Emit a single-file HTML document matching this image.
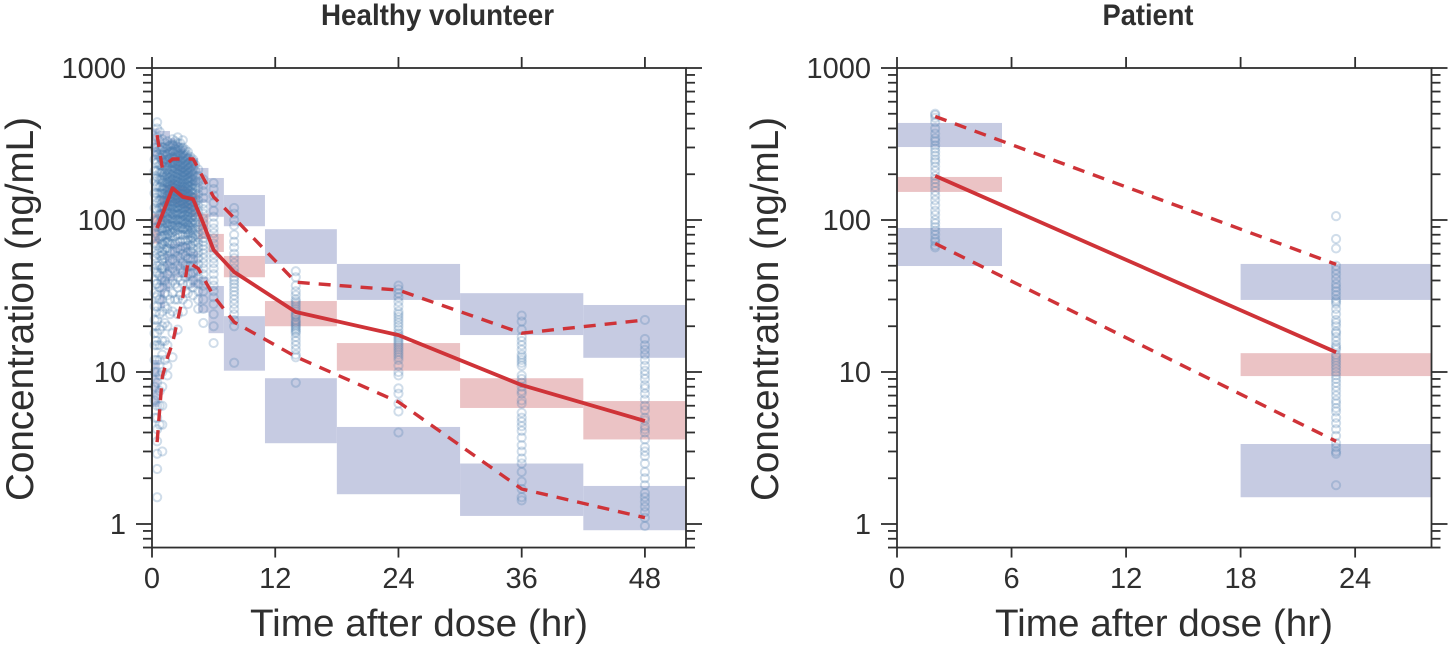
<!DOCTYPE html>
<html lang="en">
<head>
<meta charset="utf-8">
<title>Concentration versus time</title>
<style>
  html, body { margin: 0; padding: 0; background: #fff; }
  svg { display: block; font-family: "Liberation Sans", Arial, sans-serif; }
</style>
</head>
<body>
<svg id="chart" width="1450" height="647" viewBox="0 0 1450 647" xmlns="http://www.w3.org/2000/svg"></svg>
<script>
// ---------- Healthy volunteer data ----------
const hvXTicks = [0, 12, 24, 36, 48];
const ptXTicks = [0, 6, 12, 18, 24];
const yTickLabels = [1, 10, 100, 1000];

const hvBinEdges = [0, 0.75, 1.25, 1.75, 2.25, 2.75, 3.25, 3.75, 4.5, 5.5, 7, 11, 18, 30, 42, 52];
const hvUpperHi = [400, 385, 385, 345, 325, 300, 272, 255, 220, 189, 146, 87, 51.4, 33, 27.6];
const hvUpperLo = [250, 240, 230, 220, 210, 200, 190, 170, 130, 105, 91, 51.4, 29.8, 17.5, 12.4];
const hvMedianHi = [110, 140, 170, 180, 170, 165, 160, 150, 110, 81, 58, 29.3, 15.5, 9.1, 6.44];
const hvMedianLo = [70, 95, 120, 130, 125, 120, 115, 105, 75, 61.6, 42, 20, 10.2, 5.8, 3.6];
const hvLowerHi = [12, 45, 60, 70, 72, 72, 70, 62, 42, 36.8, 23.3, 9.1, 4.35, 2.5, 1.78];
const hvLowerLo = [5.9, 26.4, 34, 40, 42, 42, 40, 36, 24.6, 18, 10.2, 3.4, 1.57, 1.13, 0.91];

const hvObsTimes = [0.25, 0.5, 0.75, 1, 1.25, 1.5, 1.75, 2, 2.25, 2.5, 2.75, 3, 3.25, 3.5, 3.75, 4, 4.5, 5, 6, 8, 14, 24, 36, 48,
  0.4, 0.9, 1.1, 1.4, 1.6, 1.9, 2.1, 2.4, 2.6, 2.9, 3.1, 3.4, 3.6, 3.9, 4.2];
const hvObsValues = [
  [300,250,210,180,150,120,100,85,70,58,48,40,33,27,22,18,15,12,10,8,6.5,5],
  [440,400,350,300,270,240,210,190,170,150,130,115,100,90,80,70,60,50,45,38,32,27,22,18,15,12,10,8.5,7,6,5,4.2,3.5,2.9,2.3,1.5],
  [380,330,290,260,230,205,185,165,150,135,120,108,96,85,75,66,58,50,43,36,30,24,19,15,12,9.5,7.5,6,4.5],
  [340,300,270,245,225,205,190,175,160,150,140,130,120,110,100,92,85,78,70,62,55,48,42,36,30,25,20,16,13,10,8,6,4.5,3],
  [320,280,250,225,205,190,175,160,150,140,130,120,112,104,96,88,80,72,64,56,48,40,33,27,21,16,12],
  [330,300,270,250,230,215,200,185,175,165,155,145,135,125,118,110,102,95,88,80,72,65,58,50,44,38,32,26,20,15,11,9.5],
  [310,280,255,235,215,200,190,180,170,160,150,142,134,126,118,110,102,94,86,78,70,62,54,46,38,30,24],
  [340,310,285,260,240,225,210,195,185,175,165,155,148,140,132,125,118,110,103,96,90,83,76,70,62,55,48,40,33,25,18,12.5],
  [330,295,270,250,232,218,205,192,182,172,162,153,145,137,129,122,115,107,100,92,85,78,70,62,54,46,38,30],
  [350,320,290,265,245,230,215,200,190,180,170,160,152,145,138,130,122,115,108,100,93,86,80,72,65,58,50,42,36,30,24,19],
  [320,290,265,245,228,212,198,186,176,166,157,148,140,132,125,118,110,103,96,88,80,72,64,56,48,40,32],
  [335,300,275,255,235,220,205,195,185,175,165,158,150,142,135,128,120,113,106,100,94,87,80,74,67,60,52,45,38,30,25],
  [290,265,245,228,212,198,185,174,164,154,146,138,130,122,115,108,101,94,87,80,73,66,58,50,42,34],
  [280,255,235,220,205,190,178,168,160,150,142,135,128,120,113,106,100,93,87,80,74,68,62,56,50,44,38,33,28],
  [260,240,222,206,190,177,165,154,144,135,127,119,111,103,96,89,82,75,68,62,56,50,44,38],
  [250,235,215,200,185,172,160,150,140,132,124,116,108,100,94,88,82,76,70,65,60,55,50,45,40,36,32],
  [215,195,178,162,148,135,124,114,105,97,90,83,77,71,66,61,56,51,46,42,38,34,30,26],
  [185,170,155,140,128,118,110,102,95,88,82,76,72,68,64,60,56,52,48,44,40,37,34,30,26,21],
  [175,160,145,130,115,105,95,88,82,76,70,65,60,56,52,48,44,40,37,34,31,28,24,20,15.5],
  [120,110,100,92,80,72,66,60,56,52,48,45,42,40,38,36,34,32,30,28,26,24,22,20,11.5],
  [46,42,37,34,32,30,29,28,27,26,25,24,23.5,23,22,21.5,21,20.5,20,19.5,19,18.5,18,17,16,15,14,13,12.5,8.5],
  [37,35,33,31,29,27,25,24,23,22,21,20,19,18,17.5,17,16.5,16,15.5,15,14.5,14,13.5,13,12.5,12,11,10,9.5,7.8,7.2,6.2,5.5,4],
  [23.5,21.5,19,17,16,15,14,13,12.5,12,11.5,11,9.5,9,8.5,8,7.5,7.2,6.5,6.2,5.4,5,4.7,4.4,4.1,3.7,3.3,3,2.7,2.5,2.2,1.9,1.7,1.5,1.43],
  [22,16.5,15,14,13,12,11,10.2,9.6,9,8.2,7.8,7.2,6.6,6,5.6,5,4.8,4.4,4.2,4,3.6,3.2,3,2.8,2.5,2.2,2,1.8,1.6,1.5,1.4,1.3,1.2,1.1,0.97],
  [280,235,195,165,140,118,98,82,68,56,46,38,31,25,20,16],
  [290,255,228,205,184,166,150,136,122,110,98,88,78,68,58,48,40],
  [300,268,240,216,196,178,162,148,134,122,110,99,89,79,69,59,50],
  [295,262,236,214,195,178,163,150,138,126,115,105,95,85,76,66],
  [305,272,246,224,205,188,172,158,146,134,122,111,101,91,81,71],
  [315,284,258,236,216,199,183,169,156,144,133,122,112,102,92,82],
  [310,282,258,238,220,203,188,174,162,150,139,128,118,108,98,88],
  [305,280,256,236,218,202,188,175,163,152,141,131,121,111,101,91],
  [300,275,252,232,215,200,186,173,161,150,140,130,120,110,100,90],
  [295,270,248,229,212,197,183,171,160,149,139,129,119,110,100,90],
  [285,262,242,224,207,193,180,168,157,147,137,127,118,108,98,88],
  [270,250,231,214,199,186,174,163,152,142,133,124,115,105,96,86],
  [255,236,219,204,190,178,166,155,145,136,127,118,109,100,91,82],
  [245,226,209,195,182,170,159,149,140,131,122,113,104,95,86,77],
  [230,212,196,182,170,159,149,139,130,121,112,104,96,88,80,72]
];

const hvMedianTimes = [0.5, 2, 3, 4, 5, 6, 8, 14, 24, 36, 48];
const hvMedianValues = [88.6, 162, 142, 137, 95, 63.5, 45.5, 24.8, 17.5, 8.2, 4.76];
const hvUpperTimes = [0.5, 1, 2, 3, 4, 5, 6, 8, 14, 24, 36, 48];
const hvUpperValues = [362, 220, 252, 252, 252, 189, 142, 103, 39, 34.6, 18, 22];
const hvLowerTimes = [0.5, 1, 1.5, 2, 3, 3.5, 4.5, 6, 8, 14, 24, 36, 48];
const hvLowerValues = [3.46, 9.3, 12.4, 15.5, 31, 53, 48, 31.6, 21.3, 12.6, 6.35, 1.7, 1.1];

// ---------- Patient data ----------
const ptBinEdges = [0, 5.5, 18, 28];
const ptBinUsed = [0, 2];
const ptUpperHi = [435, 51.4];
const ptUpperLo = [302, 29.8];
const ptMedianHi = [192, 13.3];
const ptMedianLo = [153, 9.4];
const ptLowerHi = [88.6, 3.36];
const ptLowerLo = [49.8, 1.5];

const ptObsTimes = [2, 23];
const ptObsValues = [
  [500,490,470,440,400,370,345,330,310,295,280,265,250,240,225,210,195,185,175,165,155,145,135,125,115,108,100,95,90,85,80,75,72,68,66],
  [106,75,65,50,47,44,41,38,36,34,32,30,29,28,26,24,22,21,20,18.5,18,17,16,15,14.5,14,13,12.5,12,11.5,11,10.5,10,9.5,9,8.5,8,7.5,7,6.5,6.2,5.8,5.5,5,4.6,4.2,3.8,3.4,3.2,3,2.9,1.8]
];
const ptLineTimes = [2, 23];
const ptMedianValues = [195, 13.5];
const ptUpperValues = [480, 51];
const ptLowerValues = [70, 3.5];

// ---------- Helpers ----------
const NS = 'http://www.w3.org/2000/svg';
const root = document.getElementById('chart');
const Y_TOP = 68, DECADE = 152, Y_MIN = 0.7, Y_MAX = 1000;
const INK = '#2f2f2f';

function yPos(v) { return Y_TOP + (Math.log10(Y_MAX) - Math.log10(v)) * DECADE; }
function makeX(left, right, xMax) { return function (t) { return left + t / xMax * (right - left); }; }

function add(parent, tag, attrs, text) {
  const el = document.createElementNS(NS, tag);
  for (const k in attrs) el.setAttribute(k, attrs[k]);
  if (text !== undefined) el.textContent = text;
  parent.appendChild(el);
  return el;
}

function drawBand(group, x, x0, x1, hi, lo, fill, name) {
  const r = add(group, 'rect', { x: x(x0), y: yPos(hi), width: x(x1) - x(x0), height: yPos(lo) - yPos(hi), fill: fill });
  
  
}

function drawLine(group, x, times, values, dashed, name) {
  const pts = times.map(function (t, i) { return x(t).toFixed(1) + ',' + yPos(values[i]).toFixed(1); }).join(' ');
  const attrs = { points: pts, fill: 'none', stroke: '#cf3338', 'stroke-width': dashed ? 3.4 : 3.8, 'stroke-linejoin': 'round' };
  if (dashed) attrs['stroke-dasharray'] = '12 9';
  const l = add(group, 'polyline', attrs);
  
  
}

function drawPanel(p) {
  const x = makeX(p.left, p.right, p.xMax);
  const g = add(root, 'g', {});
  
  

  const bands = add(g, 'g', {});
  
  
  p.bins.forEach(function (b, i) {
    const x0 = p.edges[b], x1 = p.edges[b + 1];
    drawBand(bands, x, x0, x1, p.upHi[i], p.upLo[i], '#c6cbe2', 'upper-percentile-band');
    drawBand(bands, x, x0, x1, p.loHi[i], p.loLo[i], '#c6cbe2', 'lower-percentile-band');
    drawBand(bands, x, x0, x1, p.medHi[i], p.medLo[i], '#ebc3c5', 'median-band');
  });

  const obs = add(g, 'g', { fill: 'none', stroke: '#4a7bad', 'stroke-width': 2, 'stroke-opacity': 0.26 });
  
  
  p.obsTimes.forEach(function (t, i) {
    p.obsValues[i].forEach(function (v) {
      const c = add(obs, 'circle', { cx: x(t), cy: yPos(v), r: 4.1 });
      
      
    });
  });

  drawLine(g, x, p.upT, p.upV, true, p.name + '-upper-percentile-line');
  drawLine(g, x, p.loT, p.loV, true, p.name + '-lower-percentile-line');
  drawLine(g, x, p.medT, p.medV, false, p.name + '-median-line');

  // frame and ticks
  const axes = add(g, 'g', { stroke: INK, 'stroke-width': 1.8, fill: 'none' });
  
  
  const yb = yPos(Y_MIN);
  add(axes, 'rect', { x: p.left, y: Y_TOP, width: p.right - p.left, height: yb - Y_TOP });

  p.xTicks.forEach(function (t) {
    const px = x(t);
    add(axes, 'line', { x1: px, x2: px, y1: yb, y2: yb + 10 });
    add(axes, 'line', { x1: px, x2: px, y1: Y_TOP, y2: Y_TOP - 11 });
    const lab = add(g, 'text', { x: px, y: 588, 'text-anchor': 'middle', 'font-size': 29, fill: INK }, String(t));
    
    
  });

  for (let e = -1; e <= 3; e++) {
    for (let m = 1; m <= 9; m++) {
      const v = m * Math.pow(10, e);
      if (v < Y_MIN - 1e-9 || v > Y_MAX + 1e-9) continue;
      const py = yPos(v), len = m === 1 ? 16 : 9;
      add(axes, 'line', { x1: p.left - len, x2: p.left, y1: py, y2: py });
      add(axes, 'line', { x1: p.right, x2: p.right + len, y1: py, y2: py });
    }
  }

  yTickLabels.forEach(function (v) {
    const lab = add(g, 'text', { x: p.left - 26, y: yPos(v) + 10, 'text-anchor': 'end', 'font-size': 29, fill: INK }, String(v));
    
    
  });

  const title = add(g, 'text', { x: p.titleX, y: 25, 'text-anchor': 'middle', 'font-size': 30, 'font-weight': 'bold', fill: INK, textLength: p.titleLen, lengthAdjust: 'spacingAndGlyphs' }, p.title);
  
  

  const xt = add(g, 'text', { x: p.xLabelX, y: 636, 'text-anchor': 'middle', 'font-size': 38, fill: INK, textLength: 338, lengthAdjust: 'spacingAndGlyphs' }, 'Time after dose (hr)');
  
  

  const yt = add(g, 'text', { transform: 'translate(' + (p.left - 119) + ',309) rotate(-90)', 'text-anchor': 'middle', 'font-size': 39, fill: INK, textLength: 384, lengthAdjust: 'spacingAndGlyphs' }, 'Concentration (ng/mL)');
  
  
}

drawPanel({
  name: 'healthy-volunteer', title: 'Healthy volunteer', titleX: 437.5, titleLen: 233, xLabelX: 419,
  left: 152, right: 686, xMax: 52, xTicks: hvXTicks,
  edges: hvBinEdges, bins: hvUpperHi.map(function (_, i) { return i; }),
  upHi: hvUpperHi, upLo: hvUpperLo, medHi: hvMedianHi, medLo: hvMedianLo, loHi: hvLowerHi, loLo: hvLowerLo,
  obsTimes: hvObsTimes, obsValues: hvObsValues,
  medT: hvMedianTimes, medV: hvMedianValues, upT: hvUpperTimes, upV: hvUpperValues, loT: hvLowerTimes, loV: hvLowerValues
});

drawPanel({
  name: 'patient', title: 'Patient', titleX: 1148, titleLen: 91, xLabelX: 1164,
  left: 897, right: 1431.5, xMax: 28, xTicks: ptXTicks,
  edges: ptBinEdges, bins: ptBinUsed,
  upHi: ptUpperHi, upLo: ptUpperLo, medHi: ptMedianHi, medLo: ptMedianLo, loHi: ptLowerHi, loLo: ptLowerLo,
  obsTimes: ptObsTimes, obsValues: ptObsValues,
  medT: ptLineTimes, medV: ptMedianValues, upT: ptLineTimes, upV: ptUpperValues, loT: ptLineTimes, loV: ptLowerValues
});
</script>
</body>
</html>
